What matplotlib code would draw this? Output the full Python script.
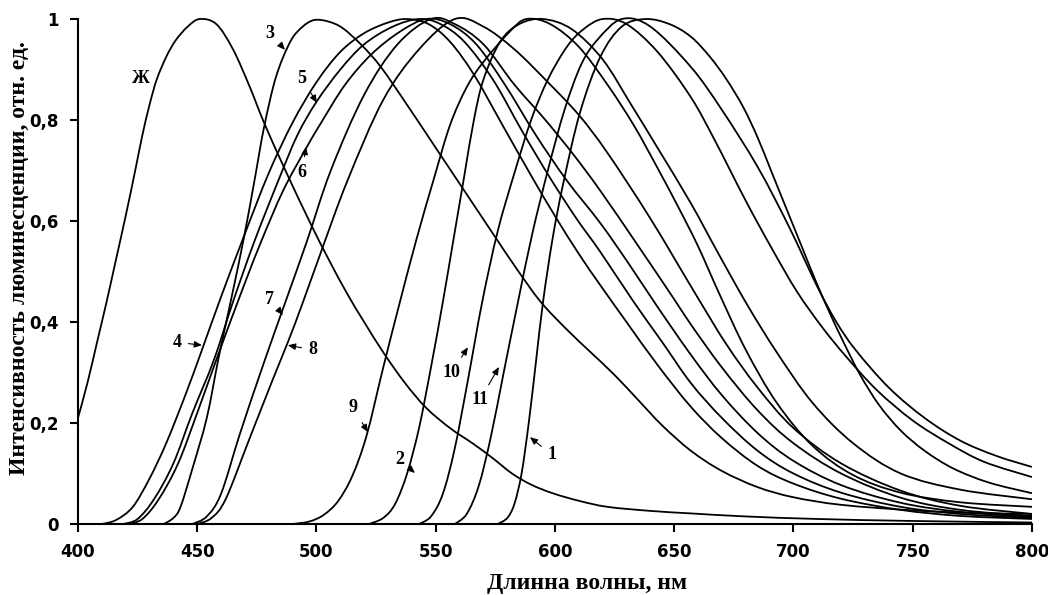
import numpy as np
import matplotlib
matplotlib.use("Agg")
import matplotlib.pyplot as plt
from matplotlib.path import Path
from matplotlib.patches import PathPatch

# spectra: wavelength (nm) and relative intensity
zh_x = [400, 404, 408, 412, 416, 420, 424, 427, 430, 433, 437, 441, 446, 451, 458, 465, 472, 478, 487, 497,
        505, 513, 520, 528, 537, 546, 556, 566, 574, 582, 590, 599, 610, 622, 640, 657, 680, 710, 750, 800]
zh_y = [0.21, 0.28, 0.36, 0.44, 0.525, 0.61, 0.70, 0.77, 0.83, 0.88, 0.925, 0.958, 0.985, 1.0, 0.99, 0.94,
        0.866, 0.795, 0.70, 0.60, 0.525, 0.455, 0.40, 0.34, 0.28, 0.23, 0.19, 0.158, 0.13, 0.10, 0.078, 0.061,
        0.046, 0.034, 0.026, 0.021, 0.015, 0.010, 0.006, 0.003]

c1_x = [576, 580, 583, 586, 589, 592, 595, 599, 603.5, 610.5, 619, 628, 638, 648, 657, 665, 672, 679, 685,
        691, 697, 703, 709, 715, 721, 728, 736, 745, 755, 767, 782, 800]
c1_y = [0, 0.012, 0.04, 0.10, 0.20, 0.32, 0.44, 0.565, 0.675, 0.815, 0.925, 0.985, 1.0, 0.99, 0.965, 0.925,
        0.88, 0.825, 0.765, 0.695, 0.625, 0.555, 0.485, 0.42, 0.36, 0.295, 0.235, 0.185, 0.145, 0.11, 0.082,
        0.061]

c2_x = [522, 528, 533, 538, 543, 548, 553, 557.5, 562, 566, 570, 577, 585, 595, 607, 620, 632, 643, 657, 668,
        680.5, 693, 708, 725, 745, 770, 800]
c2_y = [0, 0.012, 0.04, 0.10, 0.19, 0.31, 0.44, 0.565, 0.69, 0.80, 0.88, 0.955, 0.99, 1.0, 0.98, 0.92, 0.83,
        0.745, 0.635, 0.54, 0.435, 0.34, 0.24, 0.16, 0.10, 0.068, 0.049]

c3_x = [436, 440, 443, 448, 454, 459, 464, 469.5, 474, 478, 483, 489, 494, 499, 505, 511, 519, 527, 538, 550,
        562, 574, 584, 594, 605, 615, 625, 635, 645, 657, 670, 685, 700, 720, 750, 775, 800]
c3_y = [0, 0.012, 0.034, 0.11, 0.21, 0.33, 0.44, 0.565, 0.68, 0.785, 0.885, 0.955, 0.984, 0.998, 0.995, 0.982,
        0.948, 0.905, 0.83, 0.745, 0.66, 0.575, 0.505, 0.44, 0.385, 0.34, 0.295, 0.245, 0.195, 0.145, 0.105,
        0.073, 0.053, 0.038, 0.027, 0.022, 0.02]

c4_x = [410, 416, 423, 430, 437, 445, 452, 460, 470, 480, 490, 500, 510, 520, 530, 538, 547, 556, 566, 578,
        590, 600, 610, 619, 630, 643, 657, 670, 685, 700, 720, 745, 770, 800]
c4_y = [0, 0.008, 0.034, 0.09, 0.16, 0.255, 0.345, 0.45, 0.575, 0.695, 0.795, 0.875, 0.935, 0.972, 0.993, 1.0,
        0.99, 0.955, 0.89, 0.79, 0.69, 0.61, 0.535, 0.473, 0.40, 0.315, 0.232, 0.17, 0.115, 0.08, 0.05, 0.028,
        0.016, 0.01]

c5_x = [419, 425, 432, 440, 448, 457, 465, 474, 484, 492, 500, 510, 520, 532, 543, 552, 562, 574, 586, 598,
        609, 619, 633, 645, 657, 670, 685, 700, 720, 745, 770, 800]
c5_y = [0, 0.01, 0.05, 0.12, 0.22, 0.325, 0.44, 0.56, 0.68, 0.77, 0.836, 0.90, 0.95, 0.985, 1.0, 0.99, 0.955,
        0.88, 0.78, 0.685, 0.605, 0.539, 0.44, 0.36, 0.279, 0.21, 0.145, 0.10, 0.062, 0.034, 0.02, 0.012]

c6_x = [421, 427, 434, 442, 450, 458, 467, 476, 486, 496, 502, 512, 523, 535, 546, 556, 567, 579, 592, 605,
        619, 631, 643, 657, 670, 685, 700, 720, 745, 770, 800]
c6_y = [0, 0.01, 0.05, 0.12, 0.22, 0.325, 0.44, 0.55, 0.66, 0.747, 0.795, 0.87, 0.93, 0.975, 1.0, 0.99, 0.95,
        0.87, 0.77, 0.68, 0.596, 0.515, 0.43, 0.335, 0.255, 0.18, 0.125, 0.077, 0.042, 0.024, 0.014]

c7_x = [448, 454, 460, 468, 478, 487, 496, 506, 520, 534, 548, 558, 570, 583, 596, 608, 619, 635, 650, 657,
        670, 685, 700, 720, 745, 770, 800]
c7_y = [0, 0.015, 0.06, 0.18, 0.32, 0.44, 0.56, 0.70, 0.85, 0.95, 1.0, 0.99, 0.95, 0.87, 0.80, 0.73, 0.66,
        0.55, 0.445, 0.395, 0.31, 0.225, 0.16, 0.10, 0.052, 0.028, 0.016]

c8_x = [450, 456, 462, 472, 482, 488, 494, 502, 513, 528, 543, 558, 570, 583, 597, 610, 622, 640, 659, 672,
        685, 700, 720, 745, 770, 800]
c8_y = [0, 0.012, 0.05, 0.17, 0.29, 0.36, 0.435, 0.54, 0.68, 0.84, 0.94, 1.0, 0.985, 0.94, 0.875, 0.81, 0.735,
        0.605, 0.455, 0.355, 0.27, 0.19, 0.12, 0.066, 0.036, 0.02]

c9_x = [490, 497, 503, 509, 515, 521, 528, 535, 542, 549, 556, 563, 570, 581, 588, 598, 610, 622, 633, 643,
        652, 660, 669, 680, 693, 708, 725, 745, 770, 800]
c9_y = [0, 0.005, 0.018, 0.045, 0.095, 0.175, 0.31, 0.44, 0.565, 0.68, 0.79, 0.865, 0.915, 0.975, 1.0, 0.99,
        0.945, 0.87, 0.79, 0.705, 0.625, 0.55, 0.455, 0.345, 0.24, 0.155, 0.097, 0.062, 0.043, 0.034]

c10_x = [543, 548, 553, 558, 563.5, 569.5, 576, 583, 590, 597, 605, 612, 620, 630, 643, 657, 667, 680, 691,
         701.5, 712, 722, 735, 750, 765, 780, 800]
c10_y = [0, 0.015, 0.06, 0.15, 0.285, 0.44, 0.58, 0.695, 0.80, 0.88, 0.945, 0.98, 1.0, 0.99, 0.935, 0.845,
         0.76, 0.64, 0.545, 0.46, 0.39, 0.332, 0.265, 0.205, 0.16, 0.123, 0.093]

c11_x = [558, 563, 568, 573, 578.5, 584.5, 590.5, 597, 604, 611, 618, 628, 640, 657, 670, 685, 698, 710, 718,
         726, 740, 755, 770, 785, 800]
c11_y = [0, 0.02, 0.075, 0.17, 0.30, 0.44, 0.575, 0.70, 0.82, 0.91, 0.96, 1.0, 0.985, 0.905, 0.82, 0.707,
         0.59, 0.47, 0.40, 0.345, 0.27, 0.21, 0.165, 0.135, 0.113]

curves = [(zh_x, zh_y), (c1_x, c1_y), (c2_x, c2_y), (c3_x, c3_y), (c4_x, c4_y), (c5_x, c5_y),
          (c6_x, c6_y), (c7_x, c7_y), (c8_x, c8_y), (c9_x, c9_y), (c10_x, c10_y), (c11_x, c11_y)]

# curve labels: text, text position, arrow tip (None = no arrow)
labels = [
    ("Ж", (426.4, 0.883), None),
    ("3", (480.5, 0.972), (486.8, 0.939)),
    ("5", (493.9, 0.883), (500.2, 0.834)),
    ("6", (493.9, 0.697), (495.6, 0.747)),
    ("4", (441.5, 0.360), (452.0, 0.354)),
    ("7", (480.5, 0.444), (486.0, 0.414)),
    ("8", (498.5, 0.345), (488.0, 0.354)),
    ("9", (515.3, 0.230), (521.6, 0.182)),
    ("2", (535.0, 0.127), (541.3, 0.101)),
    ("10", (556.8, 0.301), (563.5, 0.350)),
    ("11", (568.6, 0.246), (576.5, 0.311)),
    ("1", (598.7, 0.137), (589.5, 0.172)),
]

x_ticks = [400, 450, 500, 550, 600, 650, 700, 750, 800]
y_ticks = [0, 0.2, 0.4, 0.6, 0.8, 1.0]
y_tick_labels = ["0", "0,2", "0,4", "0,6", "0,8", "1"]


def smooth_path(xs, ys):
    # Excel-style smoothed line: cubic Bezier segments through the points
    pts = np.column_stack([xs, ys]).astype(float)
    n = len(pts)
    verts = [pts[0]]
    codes = [Path.MOVETO]
    for i in range(n - 1):
        p0 = pts[i - 1] if i > 0 else pts[i]
        p1 = pts[i]
        p2 = pts[i + 1]
        p3 = pts[i + 2] if i + 2 < n else pts[i + 1]
        verts += [p1 + (p2 - p0) / 6, p2 - (p3 - p1) / 6, p2]
        codes += [Path.CURVE4] * 3
    return Path(verts, codes)


fig = plt.figure(figsize=(10.48, 5.95), dpi=100)
ax = fig.add_axes([0.0744, 0.1193, 0.9103, 0.8487])

for xs, ys in curves:
    ax.add_patch(PathPatch(smooth_path(xs, ys), facecolor="none", edgecolor="black",
                           lw=1.3, clip_on=False, zorder=2))

serif = "Liberation Serif"
for text, pos, tip in labels:
    if tip is None:
        ax.text(pos[0], pos[1], text, fontsize=13, fontweight="bold", family=serif,
                ha="center", va="center")
    else:
        ax.annotate(text, xy=tip, xytext=pos, fontsize=13, fontweight="bold", family=serif,
                    ha="center", va="center",
                    arrowprops=dict(arrowstyle="-|>,head_length=0.35,head_width=0.15",
                                    color="black", lw=0.8, shrinkA=3, shrinkB=0))

ax.set_xlim(400, 800)
ax.set_ylim(0, 1)
ax.set_xticks(x_ticks)
ax.set_yticks(y_ticks)
ax.set_yticklabels(y_tick_labels)
ax.spines["top"].set_visible(False)
ax.spines["right"].set_visible(False)
for s in ("left", "bottom"):
    ax.spines[s].set_linewidth(1.5)
ax.tick_params(direction="out", length=6, width=1.5, labelsize=12, pad=8)
for lab in ax.get_xticklabels() + ax.get_yticklabels():
    lab.set_fontweight("bold")
    lab.set_family("DejaVu Sans")

fig.text(0.56, 0.02, "Длинна волны, нм", fontsize=17, fontweight="bold", family=serif,
         ha="center", va="center")
fig.text(0.019, 0.566, "Интенсивность люминесценции, отн. ед.", fontsize=17, fontweight="bold",
         family=serif, rotation=90, ha="center", va="center")

fig.savefig("out.png", dpi=100)
